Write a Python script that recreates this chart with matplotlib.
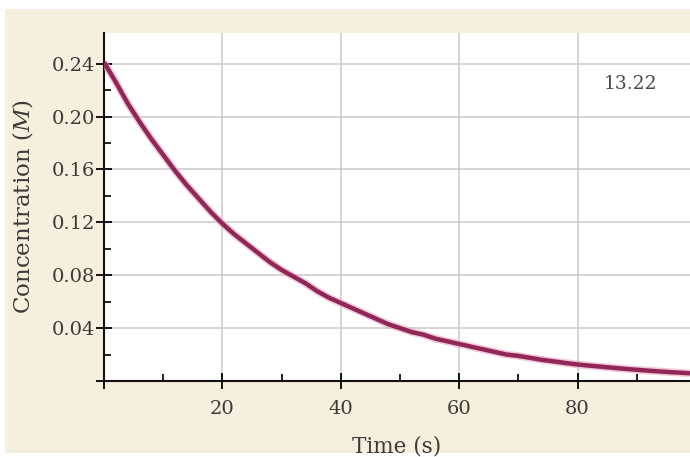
import matplotlib
matplotlib.use('Agg')
import matplotlib.pyplot as plt
from matplotlib.patches import Rectangle
import numpy as np

# values (s, M)
time_s = [0, 2, 4, 6, 8, 10, 12, 14, 16, 18, 20, 22, 24, 26, 28, 30, 32, 34, 36, 38,
          40, 42, 44, 46, 48, 50, 52, 54, 56, 58, 60, 62, 64, 66, 68, 70, 72, 74, 76, 78,
          80, 82, 84, 86, 88, 90, 92, 94, 96, 98, 99]
conc_M = [0.241, 0.226, 0.210, 0.196, 0.183, 0.171, 0.159, 0.148, 0.138, 0.128,
          0.119, 0.111, 0.104, 0.097, 0.090, 0.084, 0.079, 0.074, 0.068, 0.063,
          0.059, 0.055, 0.051, 0.047, 0.043, 0.040, 0.037, 0.035, 0.032, 0.030,
          0.028, 0.026, 0.024, 0.022, 0.020, 0.019, 0.0175, 0.016, 0.0148, 0.0136,
          0.0125, 0.0116, 0.0108, 0.0100, 0.0092, 0.0085, 0.0078, 0.0072, 0.0066, 0.0061,
          0.0058]

x_ticks = [0, 20, 40, 60, 80]
x_labels = ['', '20', '40', '60', '80']
y_ticks = [0, 0.04, 0.08, 0.12, 0.16, 0.20, 0.24]
y_labels = ['', '0.04', '0.08', '0.12', '0.16', '0.20', '0.24']
fig_tag = '13.22'

rcparams = {
    'font.family': 'DejaVu Serif',
    'mathtext.fontset': 'dejavuserif',
    'font.size': 12,
    'text.color': '#3b3a35',
    'xtick.color': '#111111',
    'ytick.color': '#111111',
    'xtick.labelcolor': '#3b3a35',
    'ytick.labelcolor': '#3b3a35',
    'axes.labelcolor': '#3b3a35',
}
matplotlib.rcParams.update(rcparams)

bg = '#f5efdd'
line_clr = '#912757'

fig = plt.figure(figsize=(6.9, 4.57), dpi=100)
fig.patch.set_facecolor('white')
# beige panel behind the chart
fig.patches.append(Rectangle((5/690, 4/457), 1 - 5/690, (453 - 9)/457,
                             transform=fig.transFigure, facecolor=bg,
                             edgecolor='none', zorder=-1))

ax = fig.add_axes([104/690, 76/457, 1 - 104/690, 348/457])
ax.set_facecolor('white')

ax.plot(time_s, conc_M, '-', color='#e7a6c4', lw=5.5, alpha=0.6, solid_capstyle='butt', zorder=3)
ax.plot(time_s, conc_M, '-', color=line_clr, lw=3.2, solid_capstyle='butt', zorder=4)

ax.set_xlim(0, 99)
ax.set_ylim(0, 0.2632)

ax.set_xticks(x_ticks)
ax.set_xticklabels(x_labels)
ax.set_yticks(y_ticks)
ax.set_yticklabels(y_labels)
ax.set_xticks([10, 30, 50, 70, 90], minor=True)
ax.set_yticks([0.02, 0.06, 0.10, 0.14, 0.18, 0.22], minor=True)

ax.tick_params(which='major', direction='inout', length=11, width=1.4, labelsize=14)
ax.tick_params(which='minor', direction='in', length=5, width=1.3)
ax.tick_params(axis='x', which='major', pad=8)
ax.tick_params(axis='y', which='major', pad=1)

ax.grid(True, which='major', color='#c9c9c9', lw=1.1, zorder=0)
ax.set_axisbelow(True)

for s in ['top', 'right']:
    ax.spines[s].set_visible(False)
for s in ['left', 'bottom']:
    ax.spines[s].set_linewidth(1.5)
    ax.spines[s].set_color('#111111')

ax.set_xlabel('Time (s)', fontsize=15.5, labelpad=13)
ax.set_ylabel(r'Concentration ($\mathit{M}$)', fontsize=16.5, labelpad=12)

ax.text(0.898, 0.853, fig_tag, transform=ax.transAxes, fontsize=13.5,
        color='#4a4a4a', ha='center', va='center')

plt.savefig('out.png', dpi=100, facecolor=fig.get_facecolor())
